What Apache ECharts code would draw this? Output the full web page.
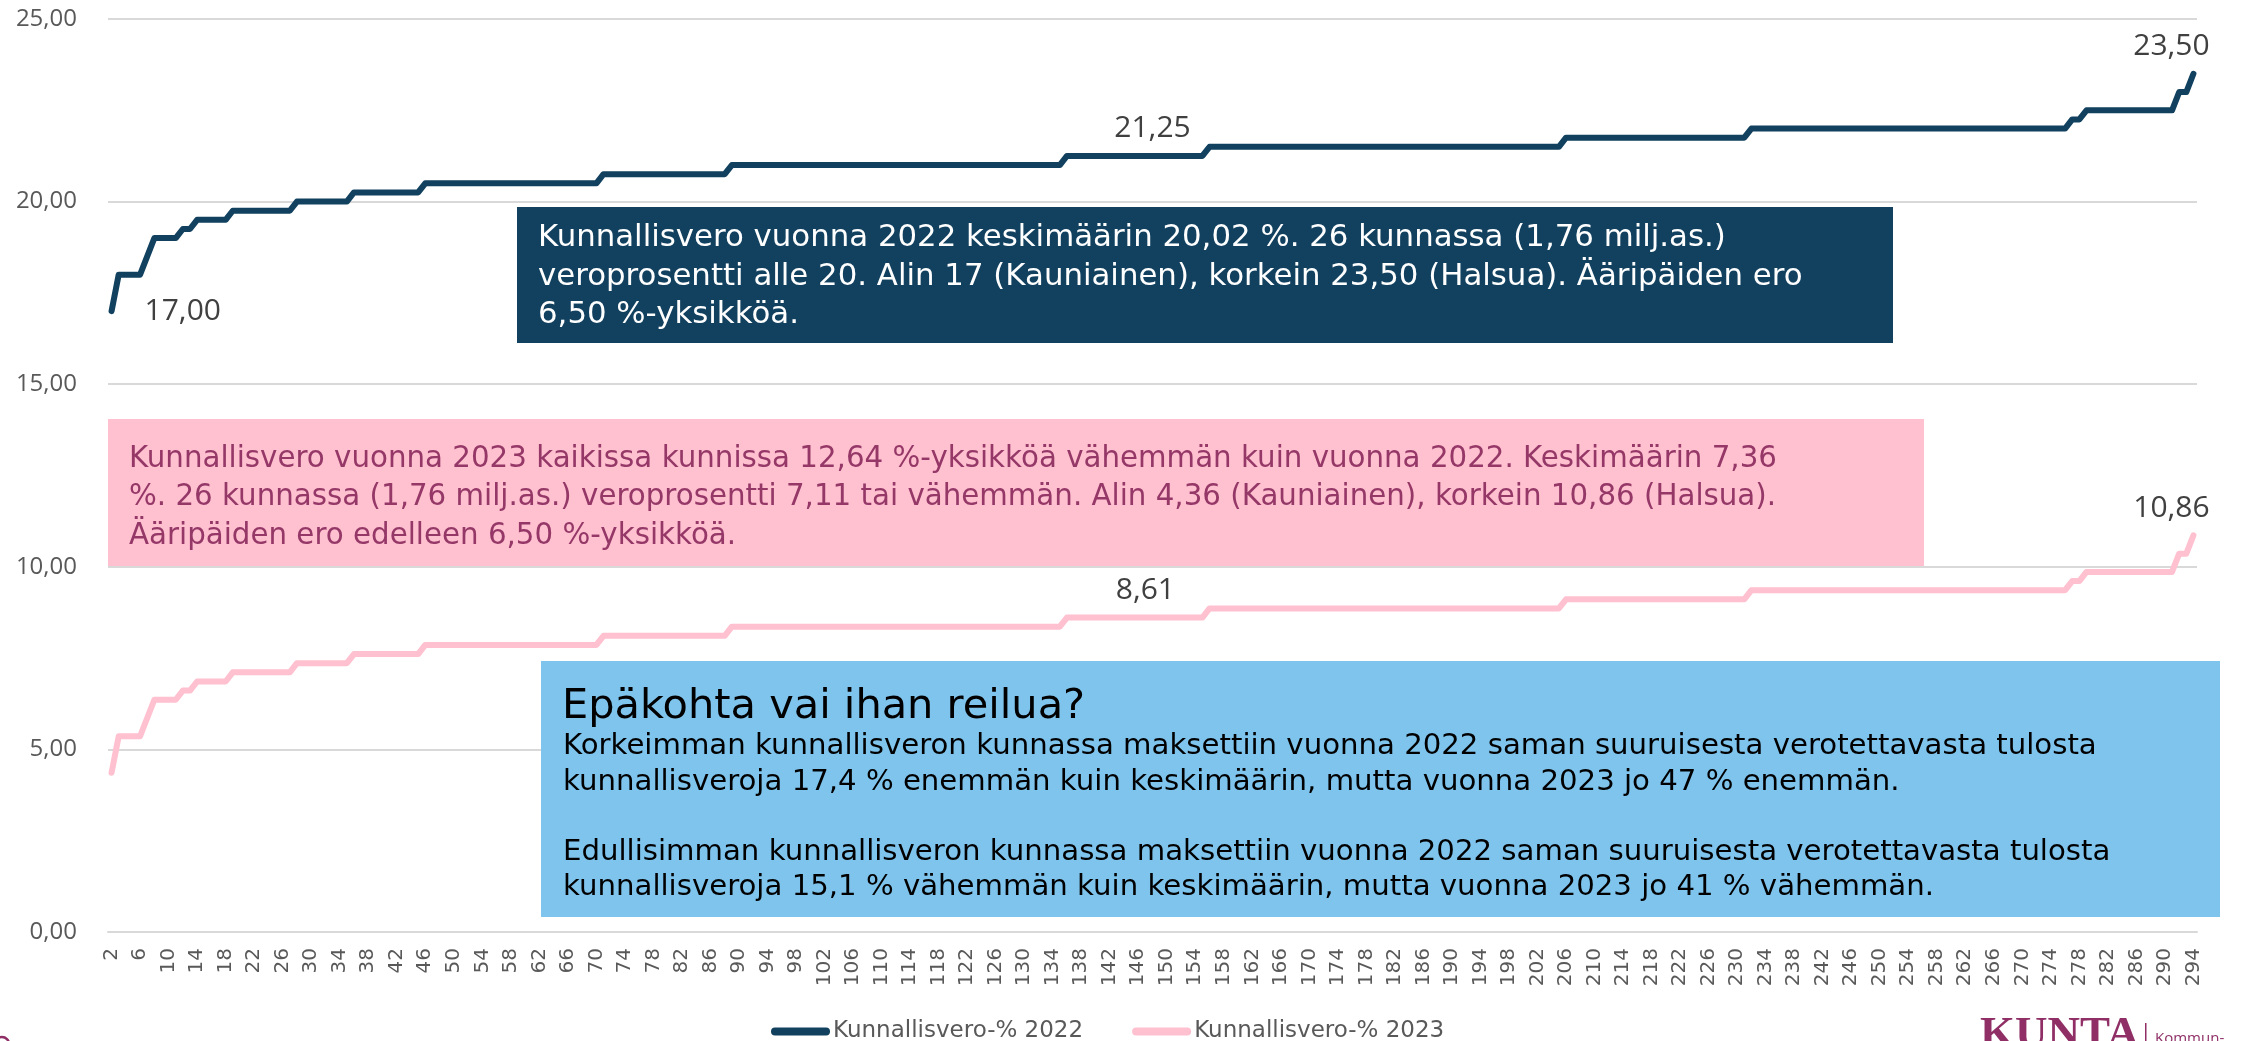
<!DOCTYPE html>
<html>
<head>
<meta charset="utf-8">
<script src="https://cdn.jsdelivr.net/npm/echarts@6/dist/echarts.min.js"></script>
<style>
  html, body { margin: 0; padding: 0; background: #fff; }
  #chart { width: 2241px; height: 1041px; }
</style>
</head>
<body>
<div id="chart"></div>
<script>
// x-akseli: rivinumerot 2..294 (293 kuntaa järjestettynä)
const categories = Array.from({ length: 293 }, (_, i) => String(i + 2));

// porrastasot ja kuinka monta kuntaa kullakin tasolla
const runLengths = [1, 4, 1, 4, 2, 5, 9, 8, 10, 25, 18, 47, 20, 50, 26, 45, 2, 13, 2, 1];
const levels2022 = [17.00, 18.00, 18.50, 19.00, 19.25, 19.50, 19.75, 20.00, 20.25, 20.50,
                    20.75, 21.00, 21.25, 21.50, 21.75, 22.00, 22.25, 22.50, 23.00, 23.50];
const levels2023 = [4.36, 5.36, 5.86, 6.36, 6.61, 6.86, 7.11, 7.36, 7.61, 7.86,
                    8.11, 8.36, 8.61, 8.86, 9.11, 9.36, 9.61, 9.86, 10.36, 10.86];

const yTicks = [0, 5, 10, 15, 20, 25];
const seriesNames = ['Kunnallisvero-% 2022', 'Kunnallisvero-% 2023'];

const DARK = '#11415f';
const PINK = '#ffc0cf';
const BOXFONT = 'DejaVu Sans';
const fi = v => Number(v).toFixed(2).replace('.', ',');

const expand = (levels, counts) => {
    const out = [];
    levels.forEach((lv, i) => {
        for (let k = 0; k < counts[i]; k++) out.push(lv);
    });
    return out;
};

const labelStyle = { show: true, fontFamily: 'Open Sans', fontSize: 30, color: '#404040', formatter: p => fi(p.value) };

const withLabels = (values, marks) => values.map((v, i) => {
    if (marks[i]) return { value: v, label: Object.assign({}, labelStyle, marks[i]) };
    return v;
});

const data2022 = withLabels(expand(levels2022, runLengths), {
    0: { position: 'right', distance: 33 },
    146: { position: 'top', distance: 12 },
    292: { position: 'top', distance: 12, offset: [-22, 0] }
});
const data2023 = withLabels(expand(levels2023, runLengths), {
    145: { position: 'top', distance: 12 },
    292: { position: 'top', distance: 12, offset: [-22, 0] }
});

const chart = echarts.init(document.getElementById('chart'));

const option = {
    animation: false,
    backgroundColor: '#ffffff',
    grid: { left: 108, right: 44, top: 19, bottom: 109 },
    legend: {
        data: seriesNames,
        bottom: -7,
        left: 766,
        icon: 'path://M4,0 H55 A4,4 0 0 1 55,8 H4 A4,4 0 0 1 4,0 Z',
        itemWidth: 59,
        itemHeight: 8,
        itemGap: 49,
        textStyle: { fontFamily: BOXFONT, fontSize: 23, color: '#595959', padding: [0, 0, 0, -2] }
    },
    xAxis: {
        type: 'category',
        data: categories,
        boundaryGap: true,
        axisTick: { show: false },
        axisLine: { lineStyle: { color: '#d9d9d9', width: 2 } },
        axisLabel: {
            rotate: 90,
            interval: 3,
            margin: 16,
            fontFamily: 'DejaVu Sans',
            fontSize: 20,
            color: '#595959'
        }
    },
    yAxis: {
        type: 'value',
        min: yTicks[0],
        max: yTicks[yTicks.length - 1],
        interval: 5,
        axisLine: { show: false },
        axisTick: { show: false },
        axisLabel: { formatter: fi, fontFamily: 'Open Sans', fontSize: 24, color: '#595959', margin: 31 },
        splitLine: { lineStyle: { color: '#d9d9d9', width: 2 } }
    },
    series: [
        {
            name: seriesNames[0],
            type: 'line',
            data: data2022,
            symbol: 'circle',
            symbolSize: 0,
            showSymbol: true,
            showAllSymbol: true,
            color: DARK,
            lineStyle: { color: DARK, width: 6, cap: 'round', join: 'round' },
            emphasis: { disabled: true },
            z: 3
        },
        {
            name: seriesNames[1],
            type: 'line',
            data: data2023,
            symbol: 'circle',
            symbolSize: 0,
            showSymbol: true,
            showAllSymbol: true,
            color: PINK,
            lineStyle: { color: PINK, width: 6, cap: 'round', join: 'round' },
            emphasis: { disabled: true },
            z: 3
        }
    ],
    graphic: [
        // tummansininen laatikko 2022
        { type: 'rect', shape: { x: 517, y: 207, width: 1376, height: 136 }, style: { fill: '#12405f' }, z: 1 },
        {
            type: 'text', x: 538, y: 219, z: 2,
            style: {
                text: 'Kunnallisvero vuonna 2022 keskimäärin 20,02 %. 26 kunnassa (1,76 milj.as.)\nveroprosentti alle 20. Alin 17 (Kauniainen), korkein 23,50 (Halsua). Ääripäiden ero\n6,50 %-yksikköä.',
                fill: '#ffffff', fontFamily: BOXFONT, fontSize: 30.8, lineHeight: 38.5
            }
        },
        // vaaleanpunainen laatikko 2023
        { type: 'rect', shape: { x: 108, y: 419, width: 1816, height: 147 }, style: { fill: '#ffc0cf' }, z: 1 },
        {
            type: 'text', x: 129, y: 440, z: 2,
            style: {
                text: 'Kunnallisvero vuonna 2023 kaikissa kunnissa 12,64 %-yksikköä vähemmän kuin vuonna 2022. Keskimäärin 7,36\n%. 26 kunnassa (1,76 milj.as.) veroprosentti 7,11 tai vähemmän. Alin 4,36 (Kauniainen), korkein 10,86 (Halsua).\nÄäripäiden ero edelleen 6,50 %-yksikköä.',
                fill: '#953868', fontFamily: BOXFONT, fontSize: 29.3, lineHeight: 38.5
            }
        },
        // vaaleansininen laatikko
        { type: 'rect', shape: { x: 541, y: 661, width: 1679, height: 256 }, style: { fill: '#7fc4ed' }, z: 1 },
        {
            type: 'text', x: 562, y: 686, z: 2,
            style: { text: 'Epäkohta vai ihan reilua?', fill: '#000000', fontFamily: BOXFONT, fontSize: 41.5, lineHeight: 41.5 }
        },
        {
            type: 'text', x: 563, y: 729, z: 2,
            style: {
                text: 'Korkeimman kunnallisveron kunnassa maksettiin vuonna 2022 saman suuruisesta verotettavasta tulosta\nkunnallisveroja 17,4 % enemmän kuin keskimäärin, mutta vuonna 2023 jo 47 % enemmän.\n\nEdullisimman kunnallisveron kunnassa maksettiin vuonna 2022 saman suuruisesta verotettavasta tulosta\nkunnallisveroja 15,1 % vähemmän kuin keskimäärin, mutta vuonna 2023 jo 41 % vähemmän.',
                fill: '#000000', fontFamily: BOXFONT, fontSize: 29.2, lineHeight: 35.3
            }
        },
        // logo oikeassa alakulmassa
        {
            type: 'text', x: 1980, y: 1013, z: 2,
            style: { text: 'KUNTA', fill: '#8f2f66', fontFamily: 'Liberation Serif', fontWeight: 'bold', fontSize: 45 }
        },
        { type: 'rect', shape: { x: 2145, y: 1023, width: 1.5, height: 20 }, style: { fill: '#8f2f66' }, z: 2 },
        {
            type: 'text', x: 2155, y: 1031, z: 2,
            style: { text: 'Kommun-', fill: '#8f2f66', fontFamily: 'Open Sans', fontSize: 15 }
        },
        // osittain näkyvä logo vasemmassa alakulmassa
        { type: 'circle', shape: { cx: 2, cy: 1044, r: 7 }, style: { fill: 'none', stroke: '#8f2f66', lineWidth: 2.5 }, z: 2 }
    ]
};

chart.setOption(option);
</script>
</body>
</html>
